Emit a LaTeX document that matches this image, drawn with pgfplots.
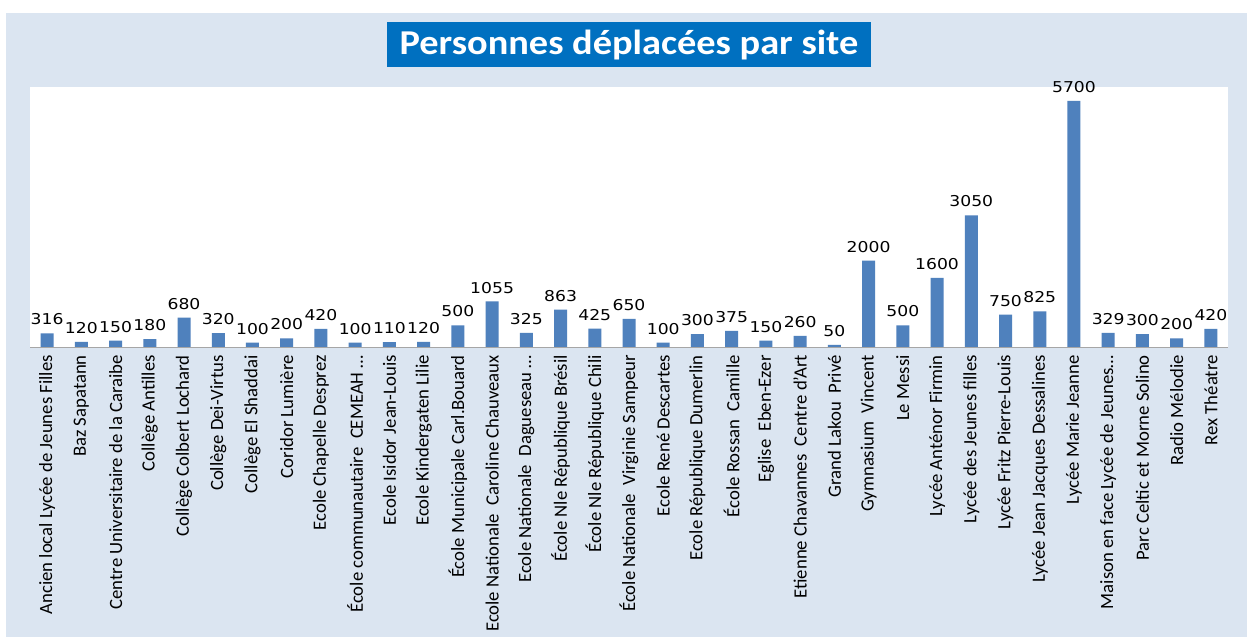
\documentclass[border=0pt]{standalone}
\usepackage{pgfplots}
\pgfplotsset{compat=1.18}
\usepackage{fontspec}
\setmainfont{Carlito}
\newfontfamily\valfont[FakeStretch=1.15]{DejaVu Sans}
\newfontfamily\titlefont[FakeStretch=1.1]{Carlito}
\definecolor{bg}{HTML}{DBE5F1}
\definecolor{titlebg}{HTML}{0070C0}
\definecolor{barc}{HTML}{4F81BD}
\begin{document}
\begin{tikzpicture}[x=1bp,y=1bp]
\useasboundingbox (0,0) rectangle (1247,637);
\fill[white] (0,0) rectangle (1247,637);
\fill[bg] (6,0) rectangle (1247,624);
\node[fill=titlebg, text=white, font=\titlefont\fontsize{35}{38}\selectfont\bfseries, minimum width=484bp, minimum height=45bp, inner sep=0pt] at (629,592) {Personnes déplacées par site};
\fill[white] (30,290) rectangle (1228,550);
\begin{axis}[
  at={(30bp,290bp)}, anchor=south west,
  scale only axis, width=1198bp, height=260bp,
  xmin=-0.5, xmax=34.5, ymin=0, ymax=6020,
  axis x line*=bottom, axis y line=none,
  x axis line style={draw=gray!70, -},
  ybar, bar width=13bp,
  xtick={0,1,2,3,4,5,6,7,8,9,10,11,12,13,14,15,16,17,18,19,20,21,22,23,24,25,26,27,28,29,30,31,32,33,34}, major tick length=0pt,
  xticklabels={
    {Ancien local Lycée de Jeunes Filles},
    {Baz Sapatann},
    {Centre Universitaire de la Caraibe},
    {Collège Antilles},
    {Collège Colbert Lochard},
    {Collège Dei-Virtus},
    {Collège El Shaddai},
    {Coridor Lumière},
    {Ecole Chapelle Desprez},
    {École communautaire\ \ CEMEAH\ \ldots},
    {Ecole Isidor Jean-Louis},
    {Ecole Kindergaten Lilie},
    {École Municipale Carl.Bouard},
    {Ecole Nationale\ \ Caroline Chauveaux},
    {Ecole Nationale\ \ Dagueseau\ \ldots},
    {École Nle République Brésil},
    {École Nle République Chili},
    {École Nationale\ \ Virginie Sampeur},
    {Ecole René Descartes},
    {Ecole République Dumerlin},
    {École Rossan\ \ Camille},
    {Eglise\ \ Eben-Ezer},
    {Etienne Chavannes\ \ Centre d'Art},
    {Grand Lakou\ \ Privé},
    {Gymnasium\ \ Vincent},
    {Le Messi},
    {Lycée Anténor Firmin},
    {Lycée des Jeunes filles},
    {Lycée Fritz Pierre-Louis},
    {Lycée Jean Jacques Dessalines},
    {Lycée Marie Jeanne},
    {Maison en face Lycée de Jeunes\ldots},
    {Parc Celtic et Morne Solino},
    {Radio Mélodie},
    {Rex Théatre}},
  xticklabel style={yshift=-8bp, rotate=90, anchor=east, inner sep=0pt, font=\fontsize{18.8}{20}\selectfont},
  nodes near coords={\pgfmathprintnumber[fixed,precision=0,1000 sep={},assume math mode=true]{\pgfplotspointmeta}},
  nodes near coords style={font=\valfont\fontsize{15}{15}\selectfont, text=black, inner sep=4bp, yshift=4bp},
]
\addplot[fill=barc, draw=none] coordinates {
(0,316) (1,120) (2,150) (3,180) (4,680) (5,320) (6,100) (7,200) (8,420)
(9,100) (10,110) (11,120) (12,500) (13,1055) (14,325) (15,863) (16,425)
(17,650) (18,100) (19,300) (20,375) (21,150) (22,260) (23,50) (24,2000)
(25,500) (26,1600) (27,3050) (28,750) (29,825) (30,5700) (31,329)
(32,300) (33,200) (34,420)};
\end{axis}
\end{tikzpicture}
\end{document}
